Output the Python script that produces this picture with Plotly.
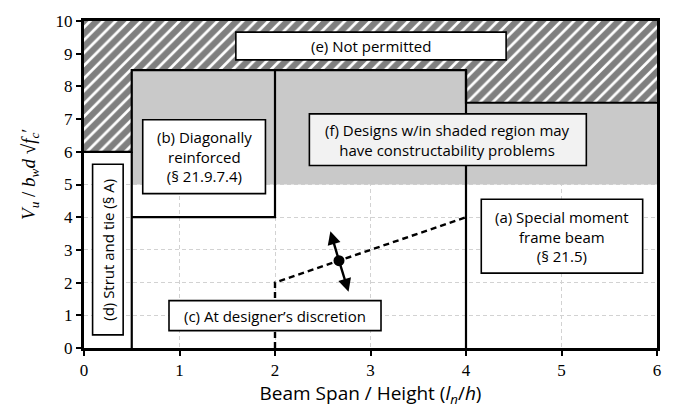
import plotly.graph_objects as go

# ---- data ----
hatch_x = [0, 0.5, 0.5, 4, 4, 6, 6, 0]
hatch_y = [6, 6, 8.5, 8.5, 7.5, 7.5, 10, 10]
shade_x = [0.5, 6, 6, 4, 4, 0.5]
shade_y = [5, 5, 7.5, 7.5, 8.5, 8.5]
bound_segments = [
    ([0, 0.5, 0.5, 4, 4, 6], [6, 6, 8.5, 8.5, 7.5, 7.5]),
    ([0.5, 0.5], [0, 6]),
    ([0.5, 2, 2], [4, 4, 8.5]),
    ([4, 4], [0, 8.5]),
]
dash_x = [2, 2, 4]
dash_y = [0, 2, 4]
point_x = [2.67]
point_y = [2.67]
arrow_tips = [(2.58, 3.57), (2.77, 1.72)]

boxes = [  # x0, x1, y0, y1, fill, text, textx, texty, angle
    (1.59, 4.42, 8.81, 9.66, "white", "(e) Not permitted", 3.0, 9.23, 0),
    (0.615, 1.90, 4.72, 6.98, "white", "(b) Diagonally<br>reinforced<br>(§ 21.9.7.4)", 1.26, 5.85, 0),
    (2.36, 5.26, 5.58, 7.16, "#f2f2f2", "(f) Designs w/in shaded region may<br>have constructability problems", 3.81, 6.37, 0),
    (4.16, 5.85, 2.29, 4.55, "white", "(a) Special moment<br>frame beam<br>(§ 21.5)", 5.0, 3.42, 0),
    (0.89, 3.11, 0.53, 1.45, "white", "(c) At designer’s discretion", 2.0, 0.99, 0),
    (0.09, 0.41, 0.40, 5.62, "white", "(d) Strut and tie (§ A)", 0.25, 3.0, -90),
]

x_ticks = [0, 1, 2, 3, 4, 5, 6]
y_ticks = [0, 1, 2, 3, 4, 5, 6, 7, 8, 9, 10]

TXT = "Open Sans"
fig = go.Figure()

fig.add_trace(go.Scatter(x=shade_x + [shade_x[0]], y=shade_y + [shade_y[0]], fill="toself",
                         fillcolor="#c9c9c9", line=dict(width=0), mode="lines",
                         hoverinfo="skip", showlegend=False))
fig.add_trace(go.Scatter(x=hatch_x + [hatch_x[0]], y=hatch_y + [hatch_y[0]], fill="toself",
                         fillcolor="white",
                         fillpattern=dict(shape="/", fgcolor="black", bgcolor="white",
                                          size=9, solidity=0.7),
                         line=dict(width=0), mode="lines", hoverinfo="skip", showlegend=False))
for bx, by in bound_segments:
    fig.add_trace(go.Scatter(x=bx, y=by, mode="lines", line=dict(color="black", width=2.2),
                             hoverinfo="skip", showlegend=False))
fig.add_trace(go.Scatter(x=dash_x, y=dash_y, mode="lines",
                         line=dict(color="black", width=2.4, dash="6px,4px"),
                         hoverinfo="skip", showlegend=False))

for (x0, x1, y0, y1, fill, text, tx, ty, ang) in boxes:
    fig.add_shape(type="rect", x0=x0, x1=x1, y0=y0, y1=y1, fillcolor=fill,
                  line=dict(color="black", width=1.6), layer="above")
    fig.add_annotation(x=tx, y=ty, text=text, showarrow=False, textangle=ang,
                       font=dict(family=TXT, size=15, color="black"))

for (ax_, ay_) in arrow_tips:
    fig.add_annotation(x=ax_, y=ay_, ax=point_x[0], ay=point_y[0], xref="x", yref="y",
                       axref="x", ayref="y", showarrow=True, arrowhead=2, arrowsize=1.1,
                       arrowwidth=2.4, arrowcolor="black", text="")
fig.add_trace(go.Scatter(x=point_x, y=point_y, mode="markers",
                         marker=dict(color="black", size=11), hoverinfo="skip", showlegend=False))

fig.add_annotation(xref="paper", yref="paper", x=-0.12, y=0.53, showarrow=False,
                   textangle=-90,
                   text="<i>V<sub>u</sub></i> / <i>b<sub>w</sub>d</i> √<i>f<sub>c</sub></i>′",
                   font=dict(family="Liberation Serif", size=19, color="black"))

fig.update_xaxes(range=[0, 6], tickvals=x_ticks, showgrid=True, gridcolor="#d2d2d2",
                 griddash="4px,3px", gridwidth=1, showline=True, linecolor="black", linewidth=3,
                 mirror=True, ticks="outside", ticklen=5, tickwidth=1.5, tickcolor="black",
                 zeroline=False,
                 tickfont=dict(family="Liberation Serif", size=17, color="black"),
                 title=dict(text="Beam Span / Height (<i>l<sub>n</sub></i>/<i>h</i>)",
                            font=dict(family=TXT, size=19, color="black"), standoff=8))
fig.update_yaxes(range=[0, 10], tickvals=y_ticks, showgrid=True, gridcolor="#d2d2d2",
                 griddash="4px,3px", gridwidth=1, showline=True, linecolor="black", linewidth=3,
                 mirror=True, ticks="outside", ticklen=5, tickwidth=1.5, tickcolor="black",
                 zeroline=False,
                 tickfont=dict(family="Liberation Serif", size=17, color="black"))
fig.update_layout(width=673, height=414, margin=dict(l=84, r=12, t=16, b=65),
                  plot_bgcolor="white", paper_bgcolor="white")
fig.write_html("out.html", config={"displayModeBar": False},
               post_script="document.body.style.margin='0';")
